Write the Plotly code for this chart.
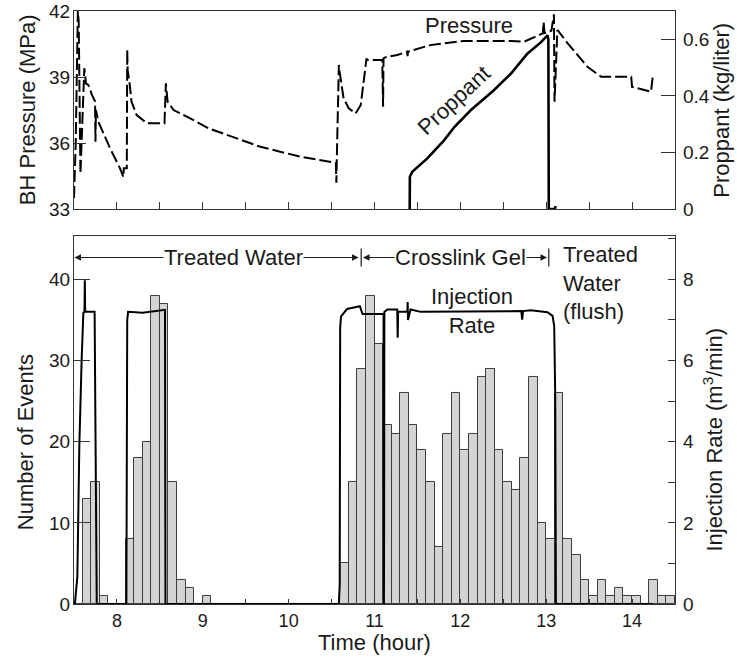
import numpy as np
import plotly.graph_objects as go

# ---------------- data ----------------
# histogram of events, 0.1 h bins starting at 7.5 h
bin_start = 7.5
bin_width = 0.1
event_counts = [0, 13, 15, 1, 0, 0, 8, 18, 20, 38,
                37, 15, 3, 2, 0, 1, 0, 0, 0, 0,
                0, 0, 0, 0, 0, 0, 0, 0, 0, 0,
                0, 5, 15, 29, 38, 32, 22, 21, 26, 22,
                19, 15, 7, 21, 26, 19, 21, 28, 29, 19,
                15, 14, 18, 28, 10, 8, 26, 8, 6, 3,
                1, 3, 1, 2, 1, 1, 0, 3, 1, 1]

# injection rate (m3/min)
rate_time = [7.50, 7.51, 7.539, 7.562, 7.589, 7.609, 7.622, 7.626, 7.63, 7.74,
             7.745, 7.765, 8.11, 8.113, 8.12, 8.13, 8.30, 8.56, 8.565, 10.585,
             10.595, 10.60, 10.61, 10.68, 10.76, 10.83, 10.86, 11.105, 11.108, 11.11,
             11.112, 11.115, 11.15, 11.265, 11.27, 11.275, 11.30, 11.383, 11.386, 11.39,
             11.42, 11.54, 12.71, 12.72, 12.73, 12.82, 13.015, 13.074, 13.093, 13.105,
             13.113, 14.24]
rate_val = [0.0, 0.0, 0.67, 3.88, 6.02, 7.18, 7.2, 7.98, 7.2, 7.2,
            5.5, 0.0, 0.0, 2.5, 7.0, 7.2, 7.18, 7.25, 0.0, 0.0,
            0.5, 6.8, 7.09, 7.27, 7.3, 7.34, 7.15, 7.15, 2.07, 0.0,
            2.07, 7.2, 7.26, 7.26, 6.56, 7.2, 7.2, 7.2, 7.44, 7.0,
            7.26, 7.2, 7.22, 7.01, 7.22, 7.24, 7.19, 7.1, 6.85, 5.12,
            0.0, 0.0]

# bottom-hole pressure (MPa)
p_time = [7.50, 7.52, 7.545, 7.555, 7.575, 7.60, 7.62, 7.64, 7.667, 7.71,
          7.745, 7.75, 7.755, 7.784, 7.92, 8.036, 8.075, 8.08, 8.115, 8.12,
          8.125, 8.145, 8.17, 8.23, 8.35, 8.554, 8.57, 8.59, 8.66, 8.853,
          9.067, 9.67, 10.137, 10.55, 10.556, 10.56, 10.585, 10.595, 10.64, 10.70,
          10.78, 10.84, 10.876, 10.907, 10.915, 11.09, 11.10, 11.105, 11.13, 11.265,
          11.38, 11.385, 11.39, 11.65, 12.04, 12.59, 12.74, 12.90, 12.96, 12.97,
          12.98, 13.02, 13.06, 13.09, 13.097, 13.13, 13.25, 13.48, 13.64, 13.99,
          14.00, 14.03, 14.22, 14.24]
p_mpa = [33.5, 36.0, 42.0, 41.5, 34.6, 37.5, 39.4, 38.7, 38.64, 38.18,
         37.9, 36.06, 37.5, 36.97, 35.76, 34.85, 34.45, 34.85, 34.85, 40.25,
         39.3, 38.8, 37.88, 37.27, 36.9, 36.9, 38.71, 37.88, 37.5, 37.12,
         36.67, 35.83, 35.38, 35.1, 34.2, 35.1, 39.55, 39.2, 38.03, 37.58,
         37.35, 37.73, 38.94, 39.85, 39.77, 39.77, 37.65, 39.85, 39.9, 40.0,
         40.15, 39.95, 40.15, 40.45, 40.64, 40.64, 40.6, 40.85, 40.98, 41.5,
         41.0, 41.06, 41.1, 41.85, 37.88, 41.14, 40.53, 39.47, 39.01, 39.01,
         38.55, 38.53, 38.33, 39.0]

# proppant concentration (kg/liter)
prop_time = [11.41, 11.412, 11.44, 11.615, 11.81, 11.93, 12.12, 12.39, 12.59, 12.78,
             12.94, 13.015, 13.025, 13.03, 13.10, 13.11]
prop_val = [0.0, 0.114, 0.132, 0.179, 0.243, 0.29, 0.349, 0.42, 0.479, 0.549,
            0.59, 0.614, 0.6, 0.0, 0.0, 0.01]

# fluid stages (h)
stage_bounds = [7.5, 10.845, 13.03]

# axis ticks
p_ticks = [33, 36, 39, 42]
prop_ticks = [0, 0.2, 0.4, 0.6]
prop_ticktext = ["0", "0.2", "0.4", "0.6"]
event_ticks = [0, 10, 20, 30, 40]

# ---------------- figure ----------------
FONT = "Liberation Sans, Arial, sans-serif"
AX = "#333333"
TXT = "#1a1a1a"

bin_centers = bin_start + bin_width * (np.arange(len(event_counts)) + 0.5)

fig = go.Figure()
fig.add_trace(go.Bar(x=bin_centers, y=event_counts, width=bin_width,
                     marker=dict(color="#d3d5d3", line=dict(color="#3c3c3c", width=1)),
                     xaxis="x2", yaxis="y3", hoverinfo="skip"))
fig.add_trace(go.Scatter(x=rate_time, y=rate_val, mode="lines",
                         line=dict(color="black", width=2),
                         xaxis="x2", yaxis="y4"))
fig.add_trace(go.Scatter(x=p_time, y=p_mpa, mode="lines",
                         line=dict(color="black", width=2, dash="12px,4px"),
                         xaxis="x", yaxis="y"))
fig.add_trace(go.Scatter(x=prop_time, y=prop_val, mode="lines",
                         line=dict(color="black", width=2.6),
                         xaxis="x", yaxis="y2"))

tickfont = dict(family=FONT, size=19, color=TXT)
common = dict(showgrid=False, zeroline=False, showline=True, linecolor=AX,
              linewidth=1.2, tickcolor=AX, tickfont=tickfont, ticklabeloverflow="allow")
common_x = dict(common, tickfont=dict(family=FONT, size=18, color=TXT))

top_dom = [0.666, 1.0]
bot_dom = [0.0, 0.6206]

fig.update_layout(
    width=737, height=657,
    margin=dict(l=74, r=62, t=11, b=53, autoexpand=False),
    paper_bgcolor="white", plot_bgcolor="white",
    showlegend=False, bargap=0,
    xaxis=dict(domain=[0, 1], anchor="y", range=[7.5, 14.5], tickmode="linear",
               tick0=7.5, dtick=0.5, ticks="inside", ticklen=7,
               showticklabels=False, mirror=True, **common),
    yaxis=dict(domain=top_dom, anchor="x", range=[33, 42], tickmode="array",
               tickvals=p_ticks, ticks="inside", ticklen=12, ticklabelstandoff=-1,
               **common),
    yaxis2=dict(overlaying="y", side="right", anchor="x", range=[0, 0.7],
                tickmode="array", tickvals=prop_ticks, ticktext=prop_ticktext,
                ticks="inside", ticklen=14, ticklabelstandoff=3, **common),
    xaxis2=dict(domain=[0, 1], anchor="y3", range=[7.5, 14.5], tickmode="linear",
                tick0=8, dtick=1, ticks="inside", ticklen=5, mirror=True,
                ticklabelstandoff=0,
                minor=dict(tick0=7.5, dtick=0.5, ticks="inside", ticklen=5, tickcolor=AX),
                **common_x),
    yaxis3=dict(domain=bot_dom, anchor="x2", range=[0, 45.35], tickmode="array",
                tickvals=event_ticks, ticks="inside", ticklen=16, ticklabelstandoff=-1,
                **common),
    yaxis4=dict(overlaying="y3", side="right", anchor="x2", range=[0, 9.07],
                tickmode="linear", tick0=0, dtick=2, ticks="inside", ticklen=7,
                ticklabelstandoff=3,
                minor=dict(tick0=1, dtick=2, ticks="inside", ticklen=7, tickcolor=AX),
                **common),
)

ann = []
tfont = dict(family=FONT, size=22, color=TXT)
# axis titles
ann.append(dict(text="BH Pressure (MPa)", xref="paper", yref="paper", x=-0.078, y=0.833,
                textangle=-90, showarrow=False, font=tfont, xanchor="center", yanchor="middle"))
ann.append(dict(text="Proppant (kg/liter)", xref="paper", yref="paper", x=1.076, y=0.833,
                textangle=-90, showarrow=False, font=tfont, xanchor="center", yanchor="middle"))
ann.append(dict(text="Number of Events", xref="paper", yref="paper", x=-0.0815, y=0.273,
                textangle=-90, showarrow=False, font=tfont, xanchor="center", yanchor="middle"))
ann.append(dict(text="Injection Rate (m<sup>3</sup>/min)", xref="paper", yref="paper",
                x=1.063, y=0.277, textangle=-90, showarrow=False, font=tfont,
                xanchor="center", yanchor="middle"))
ann.append(dict(text="Time (hour)", xref="paper", yref="paper", x=0.5, y=-0.0641,
                showarrow=False, font=tfont, xanchor="center", yanchor="middle"))
# curve labels
ann.append(dict(text="Pressure", xref="x", yref="y", x=12.1, y=41.36, showarrow=False,
                font=tfont, xanchor="center", yanchor="middle"))
ann.append(dict(text="Proppant", xref="x", yref="y", x=11.92, y=37.95, showarrow=False,
                font=tfont, textangle=-43, xanchor="center", yanchor="middle"))
ann.append(dict(text="Injection<br>Rate", xref="x2", yref="y3", x=12.13, y=36.1,
                showarrow=False, font=tfont, xanchor="center", yanchor="middle"))
ann.append(dict(text="Treated<br>Water<br>(flush)", xref="x2", yref="y3", x=13.17, y=39.5,
                showarrow=False, font=tfont, xanchor="left", yanchor="middle", align="left"))

# stage arrows
arrow_y = 42.7
stage_labels = ["Treated Water", "Crosslink Gel"]
stage_centers = [9.355, 12.0]
heads = [(stage_bounds[0] + 0.005, stage_bounds[1] - 0.03),
         (stage_bounds[1] + 0.02, stage_bounds[2] - 0.02)]
for lab, c, (h0, h1) in zip(stage_labels, stage_centers, heads):
    for h in (h0, h1):
        ann.append(dict(x=h, y=arrow_y, ax=c, ay=arrow_y, xref="x2", yref="y3",
                        axref="x2", ayref="y3", text="", showarrow=True,
                        arrowhead=2, arrowsize=1.1, arrowwidth=1.2, arrowcolor=TXT,
                        standoff=0, startstandoff=0))
    ann.append(dict(text=lab, xref="x2", yref="y3", x=c, y=arrow_y, showarrow=False,
                    font=tfont, bgcolor="white", xanchor="center", yanchor="middle",
                    borderpad=0))

shapes = []
for b in stage_bounds[1:]:
    shapes.append(dict(type="line", xref="x2", yref="y3", x0=b, x1=b,
                       y0=arrow_y - 1.1, y1=arrow_y + 1.1,
                       line=dict(color=TXT, width=1.2)))

fig.update_layout(annotations=ann, shapes=shapes)
# remove the default page margin so the figure sits at the window's top-left corner
fig.write_html("out.html", config={"displayModeBar": False},
               post_script="document.body.style.margin='0px';document.body.style.overflow='hidden';")
